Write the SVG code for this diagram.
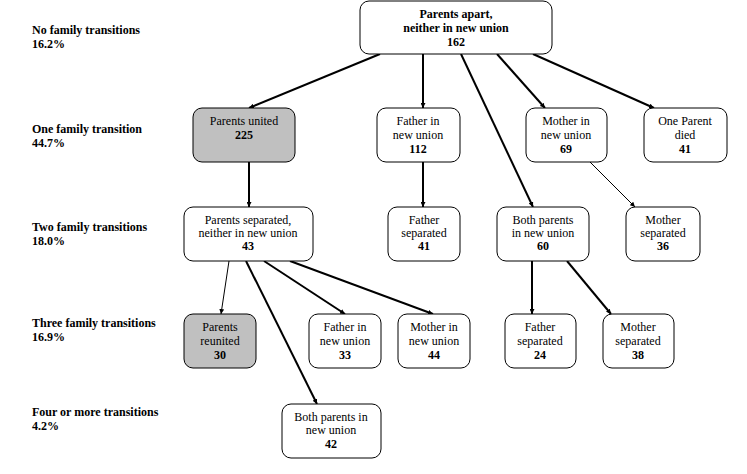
<svg xmlns="http://www.w3.org/2000/svg" width="747" height="474" viewBox="0 0 747 474">
<style>
text{font-family:"Liberation Serif","Times New Roman",serif;font-size:12px;fill:#000}
.b{font-weight:bold}
.n rect{fill:#fff;stroke:#000;stroke-width:1}
.g rect{fill:#c0c0c0}
.n text{text-anchor:middle}
.c line{stroke:#000;stroke-width:2;marker-end:url(#a)}
.c line.t{stroke-width:1}
</style>
<defs><marker id="a" viewBox="0 0 10 10" refX="10" refY="5" markerWidth="5" markerHeight="5" orient="auto" markerUnits="userSpaceOnUse"><path d="M0,0L10,5L0,10z" fill="#000"/></marker></defs>
<marker id="a2"/>
<g id="labels" class="b">
<text class="b" x="32" y="34">No family transitions</text><text class="b" x="32" y="48">16.2%</text>
<text class="b" x="32" y="133">One family transition</text><text class="b" x="32" y="147">44.7%</text>
<text class="b" x="32" y="231">Two family transitions</text><text class="b" x="32" y="245">18.0%</text>
<text class="b" x="32" y="327">Three family transitions</text><text class="b" x="32" y="341">16.9%</text>
<text class="b" x="32" y="416">Four or more transitions</text><text class="b" x="32" y="430">4.2%</text>
</g>
<g class="c" id="connectors">
<line x1="380" y1="54" x2="249" y2="108"/>
<line x1="423" y1="54" x2="423" y2="108"/>
<line x1="461" y1="54" x2="533" y2="207"/>
<line x1="497" y1="54" x2="545" y2="108"/>
<line x1="533" y1="54" x2="654" y2="108"/>
<line x1="249" y1="162" x2="249" y2="207"/>
<line x1="423" y1="162" x2="423" y2="207"/>
<line class="t" x1="590" y1="162" x2="635" y2="207"/>
<line class="t" x1="229" y1="261" x2="221" y2="314"/>
<line x1="246" y1="261" x2="317" y2="404"/>
<line x1="264" y1="261" x2="345" y2="314"/>
<line x1="290" y1="261" x2="433" y2="314"/>
<line x1="532" y1="261" x2="532" y2="314"/>
<line x1="567" y1="261" x2="611" y2="314"/>
</g>
<g id="top" class="n"><rect x="360" y="1" width="192" height="53" rx="9"/><text class="b" x="456" y="18">Parents apart,</text><text class="b" x="456" y="32">neither in new union</text><text class="b" x="456" y="46">162</text></g>
<g id="pu" class="n g"><rect x="193" y="108" width="102" height="54" rx="9"/><text x="244" y="125">Parents united</text><text class="b" x="244" y="139">225</text></g>
<g id="fnu" class="n"><rect x="377" y="108" width="83" height="54" rx="9"/><text x="418" y="125">Father in</text><text x="418" y="139">new union</text><text class="b" x="418" y="153">112</text></g>
<g id="mnu" class="n"><rect x="526" y="108" width="81" height="54" rx="9"/><text x="566" y="125">Mother  in</text><text x="566" y="139">new union</text><text class="b" x="566" y="153">69</text></g>
<g id="opd" class="n"><rect x="644" y="108" width="83" height="54" rx="9"/><text x="685" y="125">One Parent</text><text x="685" y="139">died</text><text class="b" x="685" y="153">41</text></g>
<g id="ps" class="n"><rect x="184" y="207" width="129" height="54" rx="9"/><text x="248" y="224">Parents separated,</text><text x="248" y="237">neither in new union</text><text class="b" x="248" y="250">43</text></g>
<g id="fs1" class="n"><rect x="388" y="207" width="72" height="54" rx="9"/><text x="424" y="224">Father</text><text x="424" y="237">separated</text><text class="b" x="424" y="250">41</text></g>
<g id="bp1" class="n"><rect x="497" y="207" width="92" height="54" rx="9"/><text x="543" y="224">Both parents</text><text x="543" y="237">in new union</text><text class="b" x="543" y="250">60</text></g>
<g id="ms1" class="n"><rect x="626" y="207" width="74" height="54" rx="9"/><text x="663" y="224">Mother</text><text x="663" y="237">separated</text><text class="b" x="663" y="250">36</text></g>
<g id="pr" class="n g"><rect x="184" y="314" width="72" height="54" rx="9"/><text x="220" y="331">Parents</text><text x="220" y="345">reunited</text><text class="b" x="220" y="359">30</text></g>
<g id="fnu2" class="n"><rect x="309" y="314" width="72" height="54" rx="9"/><text x="345" y="331">Father in</text><text x="345" y="345">new union</text><text class="b" x="345" y="359">33</text></g>
<g id="mnu2" class="n"><rect x="398" y="314" width="72" height="54" rx="9"/><text x="434" y="331">Mother in</text><text x="434" y="345">new union</text><text class="b" x="434" y="359">44</text></g>
<g id="fs2" class="n"><rect x="505" y="314" width="71" height="54" rx="9"/><text x="540" y="331">Father</text><text x="540" y="345">separated</text><text class="b" x="540" y="359">24</text></g>
<g id="ms2" class="n"><rect x="603" y="314" width="71" height="54" rx="9"/><text x="638" y="331">Mother</text><text x="638" y="345">separated</text><text class="b" x="638" y="359">38</text></g>
<g id="bp2" class="n"><rect x="282" y="404" width="99" height="54" rx="9"/><text x="331" y="421">Both parents in</text><text x="331" y="434">new union</text><text class="b" x="331" y="448">42</text></g>
</svg>
